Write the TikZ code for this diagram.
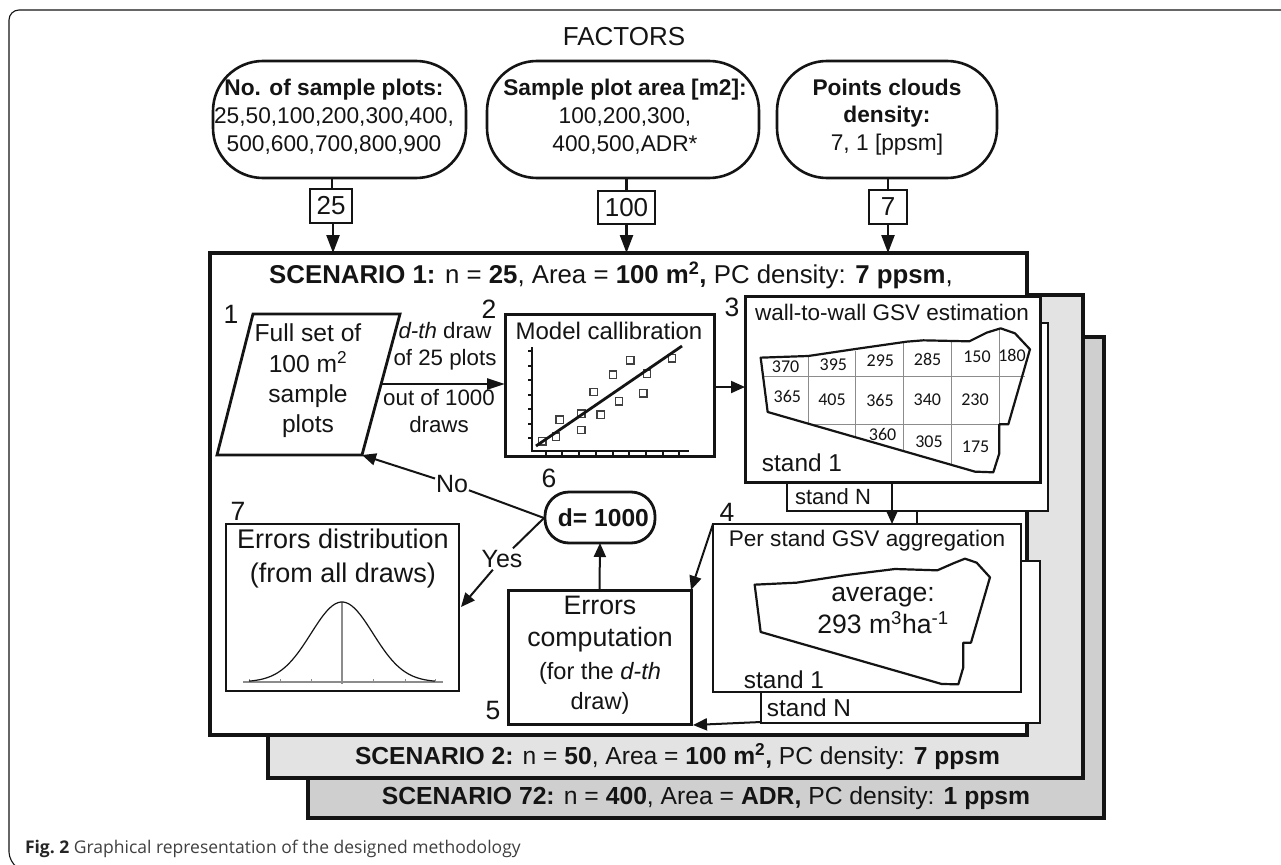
\documentclass[tikz,border=0pt]{standalone}
\usepackage{fontspec}
\setmainfont{Liberation Sans}
\newfontfamily\calib{Carlito}
\newfontfamily\capfont{Open Sans}
\usetikzlibrary{arrows.meta,calc}
\definecolor{ink}{HTML}{141414}
\definecolor{gridgray}{HTML}{8C8C8C}
\definecolor{scenB}{HTML}{E3E3E3}
\definecolor{scenC}{HTML}{CFCFCF}
\newcommand{\fs}[2]{\fontsize{#1}{#2}\selectfont}
% \boxat[style]{name}{x1}{y1}{x2}{y2}{text}
\newcommand{\boxat}[7][]{%
  \node[inner sep=0pt,outer sep=0pt,text=ink,draw=ink,align=center,#1,
    minimum width={(#5-#3)*1pt},minimum height={(#6-#4)*1pt}] (#2) at ({(#3+#5)/2},{(#4+#6)/2}) {#7};}
\tikzset{
  x=1pt,y=-1pt,
  scen/.style={line width=4pt},
  thick box/.style={line width=3pt,fill=white},
  pill/.style={line width=2.6pt,rounded corners=50pt,fill=white,font=\fs{22.7}{28}},
  valbox/.style={line width=1.6pt,fill=white,font=\fs{26}{30}},
  lbl/.style={inner sep=0pt,outer sep=0pt,text=ink,align=center},
  num/.style={lbl,font=\fs{26.5}{30}},
  cell/.style={lbl,font=\calib\fs{18}{20}},
  gridl/.style={draw=gridgray,line width=1pt},
  conn/.style={draw=ink,line width=2pt},
  arr/.style={conn,-{Triangle[length=14pt,width=12pt]}},
  bigarr/.style={conn,line width=2.4pt,-{Triangle[length=18pt,width=13pt]}},
  outl/.style={draw=ink,line width=2.2pt,line join=round},
}
\begin{document}
\begin{tikzpicture}
\useasboundingbox (0,0) rectangle (1281,864);
\fill[white] (0,0) rectangle (1281,864);
% page frame
\draw[draw=ink,line width=1.1pt,rounded corners=10pt] (15,866) -- (9,862) -- (9,10) -- (1285,10);
\node[lbl,anchor=west,font=\capfont\fs{17.5}{20},text=black!75] (cap) at (25,849) {{\bfseries\color{black!85}Fig.\ 2} Graphical representation of the designed methodology};
\node[lbl,font=\fs{26}{30}] (factors) at (624,37) {FACTORS};
% scenario sheets
\boxat[scen,fill=scenC]{s72}{308}{337}{1104}{818}{}
\boxat[scen,fill=scenB]{s2}{268}{295}{1083}{778}{}
\boxat[scen,fill=white]{s1}{210}{253}{1027}{735}{}
\node[lbl,font=\fs{25.8}{28}] (t1) at (611,275) {\textbf{SCENARIO 1:} n = \textbf{25}, Area = \textbf{100 m\textsuperscript{2},} PC density: \textbf{7 ppsm},};
\node[lbl,font=\fs{24.6}{28}] (t2) at (677.5,757) {\textbf{SCENARIO 2:} n = \textbf{50}, Area = \textbf{100 m\textsuperscript{2},} PC density: \textbf{7 ppsm}};
\node[lbl,font=\fs{24.7}{28}] (t3) at (706,798) {\textbf{SCENARIO 72:} n = \textbf{400}, Area = \textbf{ADR,} PC density: \textbf{1 ppsm}};
% factors
\boxat[pill]{f1}{213}{61}{466}{178}{}
\boxat[pill]{f2}{487}{61}{759}{178}{}
\boxat[pill]{f3}{777}{61}{997}{178}{}
\node[lbl,font=\fs{22.7}{27.8}] (f1t) at (334,117) {\textbf{No. of sample plots:}\\25,50,100,200,300,400,\\500,600,700,800,900};
\node[lbl,font=\fs{22.7}{27.8}] (f2t) at (625,117) {\textbf{Sample plot area [m2]:}\\100,200,300,\\400,500,ADR*};
\node[lbl,font=\fs{22.7}{27.8}] (f3t) at (887,117) {\textbf{Points clouds}\\\textbf{density:}\\7, 1 [ppsm]};
\boxat[valbox]{v1}{310}{189}{352}{223}{25}
\boxat[valbox]{v2}{598}{191}{655}{224}{100}
\boxat[valbox]{v3}{869}{190}{907}{224}{7}
\draw[conn,line width=2.4pt] ($(v1.north)+(1,0)$) -- ($(v1.north |- f1.south)+(1,0)$);
\draw[conn,line width=2.4pt] (v2.north) -- (v2.north |- f2.south);
\draw[conn,line width=2.4pt] (v3.north) -- (v3.north |- f3.south);
\draw[bigarr] ($(v1.south)+(2,0)$) -- ($(v1.south |- s1.north)+(2,0)$);
\draw[bigarr] (v2.south) -- (v2.south |- s1.north);
\draw[bigarr] (v3.south) -- (v3.south |- s1.north);
% step 1
\draw[draw=ink,line width=2.8pt,line join=miter,fill=white] (253,314) coordinate (p1tl) -- (400,314) coordinate (p1tr) -- (362,455) coordinate (p1br) -- (217,455) coordinate (p1bl) -- cycle;
\node[lbl,font=\fs{24.6}{30.4}] (p1t) at (308,381) {Full set of\\100 m\textsuperscript{2}\\sample\\plots};
\node[num] (n1) at (231,314) {1};
\node[lbl,font=\fs{22.3}{27}] (d1) at (445,346) {\textit{d-th} draw\\of 25 plots};
\node[lbl,font=\fs{22.3}{27}] (d2) at (439,411) {out of 1000\\draws};
\coordinate (p1r) at (382,384);
% step 2
\boxat[thick box]{m2}{505}{314}{714}{456}{}
\node[lbl,font=\fs{24}{28}] (m2t) at (609,331) {Model callibration};
\node[num] (n2) at (489,309) {2};
\draw[draw=ink,line width=2.6pt] (532,347) -- (532,451) -- (689,451);
\foreach \yy in {351,366,380,395,409,424,438} \draw[draw=ink,line width=2.6pt] (528,\yy) -- (532,\yy);
\foreach \xx in {546,562,579,596,613,629,646,663,679} \draw[draw=ink,line width=2.6pt] (\xx,451) -- (\xx,456);
\foreach \a/\b in {217/394,258/380,269/329,334/311,334/360,371/246,392/314,429/194,447/274,481/151,520/250,531/191,606/145}
  \draw[draw=black!75,line width=1.3pt] ({470+\a/3-3.75},{310+\b/3-3.75}) rectangle ++(7.5,7.5);
\draw[draw=ink,line width=2.8pt] (536,446) -- (682,346);
\draw[arr,line width=2.4pt,-{Triangle[length=18pt,width=11pt]}] (p1r) -- (m2.west |- p1r);
% step 3
\boxat[line width=2.4pt,fill=white]{b3}{787}{323}{1048}{511}{}
\boxat[thick box]{a3}{745}{296}{1040}{482}{}
\node[lbl,font=\fs{22.5}{26}] (a3t) at (892,312) {wall-to-wall GSV estimation};
\node[num] (n3) at (732,307) {3};
\begin{scope}[shift={(700,280)},x=0.3333pt,y=-0.3333pt]
\foreach \cx/\ca/\cb in {325/228/428,468/213/475,612/188/510,755/185/552,898/145/433}
  \draw[gridl] (\cx,\ca) -- (\cx,\cb);
\draw[gridl] (190,290) -- (975,290);
\draw[gridl] (330,433) -- (898,433);
\draw[outl] (182,233) -- (325,228) -- (480,205) -- (620,185) -- (670,181) -- (808,184) -- (860,158) -- (902,145) -- (945,160) -- (990,208) -- (925,433) -- (898,433) -- (898,520) -- (880,577) -- (825,575) -- (203,396) -- cycle;
\node[cell] (c1) at (257,260) {370};
\node[cell] (c2) at (400,253) {395};
\node[cell] (c3) at (541,243) {295};
\node[cell] (c4) at (683,237) {285};
\node[cell] (c5) at (831,231) {150};
\node[cell] (c6) at (936,225) {180};
\node[cell] (c7) at (262,350) {365};
\node[cell] (c8) at (396,360) {405};
\node[cell] (c9) at (540,360) {365};
\node[cell] (c10) at (682,360) {340};
\node[cell] (c11) at (825,360) {230};
\node[cell] (c12) at (548,464) {360};
\node[cell] (c13) at (687,484) {305};
\node[cell] (c14) at (827,500) {175};
\end{scope}
\node[lbl,font=\fs{24.4}{28}] (a3s) at (802,463) {stand 1};
\node[lbl,font=\fs{22}{26}] (b3s) at (833,497) {stand N};
\coordinate (m2e) at (714,387);
\draw[arr] (m2e) -- (m2e -| a3.west);
% step 4
\boxat[line width=2.4pt,fill=white]{b4}{761}{561}{1040}{723}{}
\boxat[line width=2.4pt,fill=white]{a4}{713}{524}{1021}{692}{}
\node[lbl,font=\fs{22.6}{26}] (a4t) at (867,541) {Per stand GSV aggregation};
\node[num] (n4) at (727,512) {4};
\begin{scope}[shift={(700,500)},x=0.3333pt,y=-0.3333pt]
\draw[outl] (164,254) -- (290,248) -- (440,225) -- (585,207) -- (712,211) -- (760,190) -- (795,176) -- (830,188) -- (870,232) -- (813,428) -- (790,428) -- (790,502) -- (775,553) -- (725,552) -- (182,396) -- cycle;
\end{scope}
\node[lbl,font=\fs{26.6}{32}] (avg) at (883,610) {average:\\293 m\textsuperscript{3}ha\textsuperscript{-1}};
\node[lbl,font=\fs{24.4}{28}] (a4s) at (784,680) {stand 1};
\node[lbl,font=\fs{24.4}{28}] (b4s) at (809,708) {stand N};
\draw[arr] (892,482) coordinate (a3o) -- (892,524) coordinate (a4i);
\draw[conn] (917,511) coordinate (b3o) -- (917,524) coordinate (b3i);
% step 5
\boxat[thick box]{e5}{508}{590}{691}{724}{}
\node[lbl,font=\fs{26.7}{32}] (e5a) at (600,624.5) {Errors\\computation};
\node[lbl,font=\fs{23.6}{30}] (e5b) at (600,688) {(for the \textit{d-th}\\draw)};
\node[num] (n5) at (493,711) {5};
\draw[arr] (a4.north west) -- (e5.north east);
\draw[arr] (b4.south west) ++(0,-1) -- ($(e5.south east)+(2,1)$);
% step 6
\boxat[pill,line width=2.8pt,rounded corners=24pt]{d6}{545}{492}{655}{543}{\bfseries\fs{24.6}{28} d= 1000}
\node[num] (n6) at (549,478) {6};
\draw[arr] (e5.north) -- (d6.south);
% step 7
\boxat[line width=2.4pt,fill=white]{e7}{226}{524}{459}{691}{}
\node[lbl,font=\fs{27}{34}] (e7t) at (343,559) {Errors distribution\\(from all draws)};
\node[num] (n7) at (238,511) {7};
\draw[draw=gridgray,line width=1.2pt] (243,682) -- (443,682);
\foreach \xx in {249,280,311,342,373,405,435} \draw[draw=gridgray,line width=1pt] (\xx,679) -- (\xx,683);
\draw[draw=gridgray,line width=1.4pt] (342,602) -- (342,684);
\draw[draw=ink,line width=1.2pt,domain=249:435,samples=70,smooth] plot (\x,{682-80*exp(-((\x-342)/31)^2/2)});
% decision connectors
\coordinate (d6w) at (544,518);
\node[lbl,fill=white,font=\fs{25}{28},inner sep=1pt] (no) at (452,484) {No};
\node[lbl,fill=white,font=\fs{25}{28},inner sep=2pt] (yes) at (502,559) {Yes};
\draw[conn] (d6w) -- (no);
\draw[arr] (no) -- (p1br);
\draw[conn] (d6w) -- (yes);
\draw[arr] (yes) -- (461,607) coordinate (e7r);
\end{tikzpicture}
\end{document}
